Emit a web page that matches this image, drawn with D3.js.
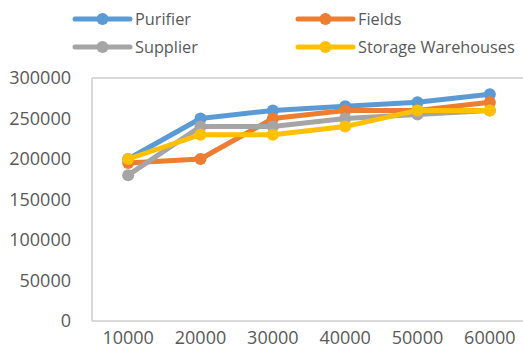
<!DOCTYPE html>
<html>
<head>
<meta charset="utf-8">
<script src="https://cdn.jsdelivr.net/npm/d3@7"></script>
<style>
  html, body { margin: 0; padding: 0; background: #fff; }
  svg { display: block; }
  text { font-family: "Open Sans", "Liberation Sans", sans-serif; fill: #595959; }
</style>
</head>
<body>
<svg id="chart" width="523" height="358"></svg>
<script>
// Categories along the x axis
const categories = ["10000", "20000", "30000", "40000", "50000", "60000"];

// Series values
const purifier = [200000, 250000, 260000, 265000, 270000, 280000];
const fields = [195000, 200000, 250000, 260000, 260000, 270000];
const supplier = [180000, 240000, 240000, 250000, 255000, 260000];
const storageWarehouses = [200000, 230000, 230000, 240000, 260000, 260000];

// Y axis ticks
const yTicks = [0, 50000, 100000, 150000, 200000, 250000, 300000];

const seriesNames = ["Purifier", "Fields", "Supplier", "Storage Warehouses"];
const seriesColors = ["#5B9BD5", "#ED7D31", "#A5A5A5", "#FFC000"];

const series = [
  { name: seriesNames[0], values: purifier, color: seriesColors[0] },
  { name: seriesNames[1], values: fields, color: seriesColors[1] },
  { name: seriesNames[2], values: supplier, color: seriesColors[2] },
  { name: seriesNames[3], values: storageWarehouses, color: seriesColors[3] }
];

const svg = d3.select("#chart");

const plot = { left: 92, right: 526, top: 78, bottom: 321 };

const x = d3.scaleBand().domain(categories).range([plot.left, plot.right]);
const y = d3.scaleLinear().domain([0, 300000]).range([plot.bottom, plot.top]);

// Plot area frame (top, left, bottom)
const frame = svg.append("g").attr("stroke", "#d9d9d9").attr("stroke-width", 2).attr("fill", "none");
frame.append("line").attr("x1", plot.left).attr("x2", plot.right).attr("y1", plot.top).attr("y2", plot.top);
frame.append("line").attr("x1", plot.left).attr("x2", plot.left).attr("y1", plot.top).attr("y2", plot.bottom);
frame.append("line").attr("x1", plot.left).attr("x2", plot.right).attr("y1", plot.bottom).attr("y2", plot.bottom);

// Y axis labels
const yAxis = d3.axisLeft(y).tickValues(yTicks).tickSize(0).tickPadding(21).tickFormat(d3.format("d"));
const gy = svg.append("g").attr("transform", `translate(${plot.left},0)`).call(yAxis);
gy.select(".domain").remove();
gy.selectAll("text").style("font-size", "18px").attr("fill", "#595959");

// X axis labels
const xAxis = d3.axisBottom(x).tickSize(0).tickPadding(10);
const gx = svg.append("g").attr("transform", `translate(0,${plot.bottom})`).call(xAxis);
gx.select(".domain").remove();
gx.selectAll("text").style("font-size", "18px").attr("fill", "#595959");

// Lines and markers
const line = d3.line()
  .x((d, i) => x(categories[i]) + x.bandwidth() / 2)
  .y(d => y(d));

series.forEach(s => {
  const g = svg.append("g");
  g.append("path")
    .datum(s.values)
    .attr("d", line)
    .attr("fill", "none")
    .attr("stroke", s.color)
    .attr("stroke-width", 5)
    .attr("stroke-linejoin", "round")
    .attr("stroke-linecap", "round");
  g.selectAll("circle")
    .data(s.values)
    .join("circle")
    .attr("cx", (d, i) => x(categories[i]) + x.bandwidth() / 2)
    .attr("cy", d => y(d))
    .attr("r", 6)
    .attr("fill", s.color);
});

// Legend: two columns, two rows
const legendPos = [
  { x: 75, y: 19 }, { x: 298, y: 19 },
  { x: 75, y: 47 }, { x: 298, y: 47 }
];
series.forEach((s, i) => {
  const p = legendPos[i];
  const g = svg.append("g").attr("transform", `translate(${p.x},${p.y})`);
  g.append("line")
    .attr("x1", 0).attr("x2", 55).attr("y1", 0).attr("y2", 0)
    .attr("stroke", s.color).attr("stroke-width", 5).attr("stroke-linecap", "round");
  g.append("circle").attr("cx", 27.5).attr("cy", 0).attr("r", 6).attr("fill", s.color);
  g.append("text")
    .attr("x", 60).attr("y", 0).attr("dy", "0.35em")
    .style("font-size", "16.3px")
    .text(s.name);
});
</script>
</body>
</html>
